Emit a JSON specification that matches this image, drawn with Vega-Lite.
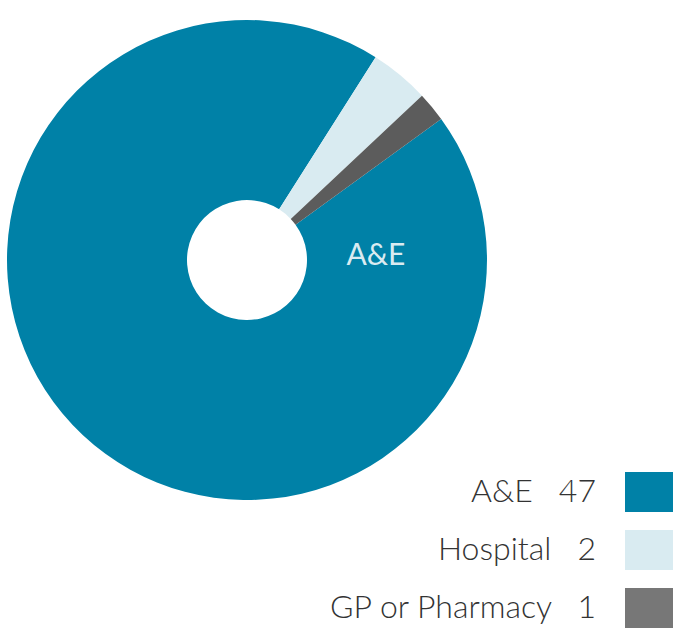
{
  "$schema": "https://vega.github.io/schema/vega-lite/v6.json",
  "width": 494,
  "height": 520,
  "padding": 0,
  "background": "white",
  "config": {"view": {"stroke": null}},
  "data": {
    "values": [
      {"category": "A&E", "value": 47},
      {"category": "Hospital", "value": 2},
      {"category": "GP or Pharmacy", "value": 1}
    ]
  },
  "transform": [
    {"calculate": "datum.category + '\u00a0\u00a0\u00a0' + datum.value", "as": "legendLabel"}
  ],
  "layer": [
    {
      "mark": {"type": "arc", "innerRadius": 60, "outerRadius": 240},
      "encoding": {
        "theta": {"field": "value", "type": "quantitative", "stack": true, "scale": {"range": [0.9425, 7.2257]}},
        "order": {"field": "value", "type": "quantitative", "sort": "descending"},
        "color": {
          "field": "legendLabel",
          "type": "nominal",
          "sort": {"field": "value", "order": "descending"},
          "scale": {"range": ["#0081A7", "#D9EBF1", "#5C5C5C"]},
          "legend": {
            "title": null,
            "orient": "none",
            "legendX": 625,
            "legendY": 468,
            "direction": "vertical",
            "symbolType": "M-1,-0.83H1V0.83H-1Z",
            "symbolSize": 2304,
            "symbolStrokeWidth": 0,
            "symbolOpacity": 1,
            "labelFont": "Lato",
            "labelFontSize": 32,
            "labelFontWeight": 300,
            "labelColor": "#333333",
            "labelAlign": "right",
            "labelBaseline": "middle",
            "labelOffset": -77,
            "labelLimit": 0,
            "rowPadding": 14,
            "encode": {
              "symbols": {
                "update": {
                  "fillOpacity": {"signal": "datum.index === 2 ? 0.83 : 1"}
                }
              }
            }
          }
        }
      }
    },
    {
      "transform": [{"filter": "datum.category == 'A&E'"}],
      "mark": {"type": "text", "theta": 1.54, "radius": 129, "font": "Lato", "fontSize": 30, "fontWeight": 400, "color": "#D9EBF1", "align": "center", "baseline": "middle"},
      "encoding": {"text": {"field": "category"}}
    }
  ]
}
